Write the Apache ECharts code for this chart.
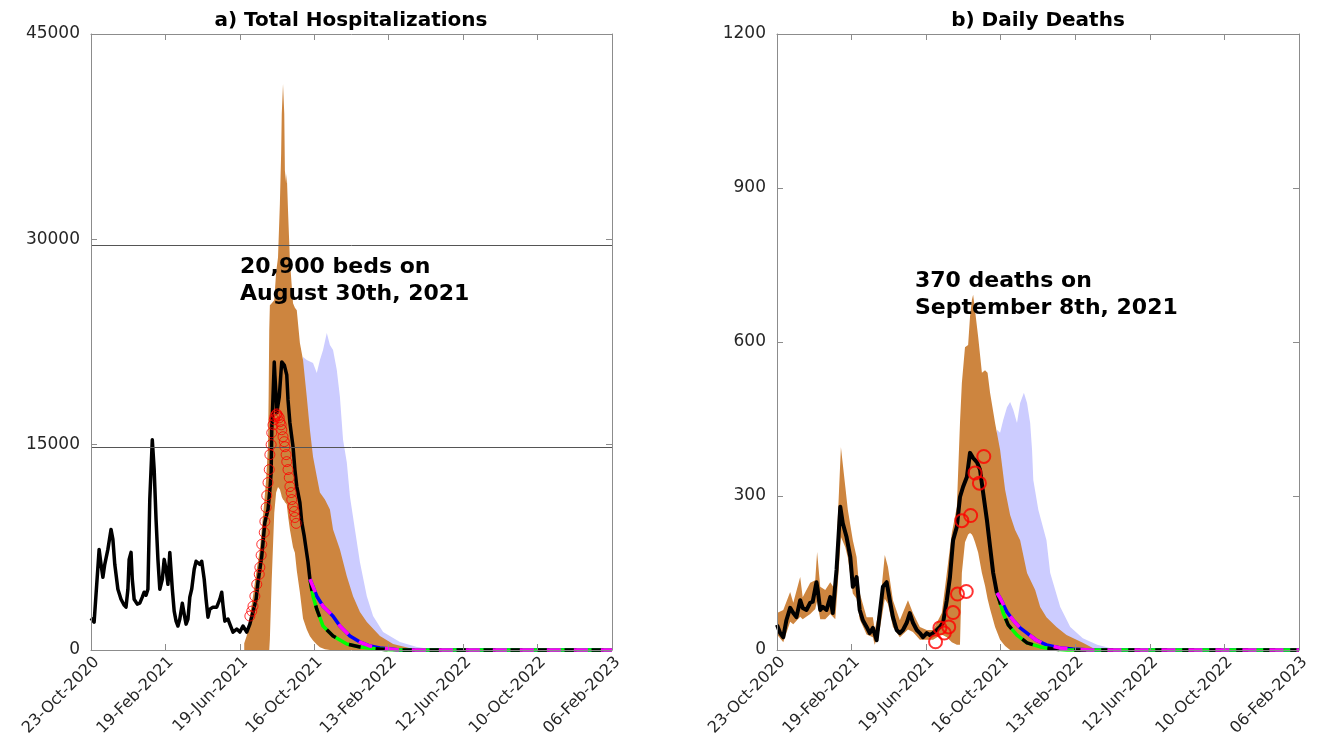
<!DOCTYPE html>
<html><head><meta charset="utf-8">
<script src="https://cdn.jsdelivr.net/npm/echarts@6/dist/echarts.min.js"></script>
<style>html,body{margin:0;padding:0;background:#fff}#c{width:1320px;height:753px}</style>
</head><body><div id="c"></div>
<script>
// ---------- axis ticks ----------
const xTickLabels = ['23-Oct-2020','19-Feb-2021','19-Jun-2021','16-Oct-2021','13-Feb-2022','12-Jun-2022','10-Oct-2022','06-Feb-2023'];
const dayStep = 119; // days between date ticks
const hospTicks = [0, 15000, 30000, 45000];
const deathTicks = [0, 300, 600, 900, 1200];
const bedLines = [29600, 14800];

// ---------- a) hospitalizations (day index from 23-Oct-2020) ----------
const hospObsDays = [0,5,8,13,16,19,22,27,32,35,38,43,48,53,56,59,61,64,66,69,74,78,82,85,88,91,94,98,101,104,107,110,114,117,120,123,126,130,133,136,139,142,146,149,152,155,158,161,165,168,171,174,177,181,184,187,190,195,201,206,209,211,214,219,222,227,233,238,243,249,254,259,264,267,270,273,278,283,286,288,289,291,293,294,296,297,301,304,305,309,311,313,315,318,323,326,329,334,337,341,344,347,350];
const hospObsVals = [2330,2040,2110,7350,6260,5310,6260,7350,8810,8080,6260,4440,3710,3280,3130,4440,6620,7130,5170,3710,3350,3420,3860,4220,4000,4440,11000,15360,13180,9540,6620,4440,5170,6620,5900,4800,7130,4440,2840,2110,1750,2260,3420,2620,1890,2260,3860,4440,5900,6480,6480,6260,6480,5170,3710,2400,2980,3130,3130,3710,4220,3280,2110,2260,1890,1310,1530,1310,1750,1310,1890,2770,3710,4950,5900,6840,9320,10260,11720,12960,16090,18490,21040,20090,18490,17330,18490,20460,21040,20820,20900,20090,18270,16600,14850,13180,11940,10770,9320,8300,7350,6410,5170];
const hospDataDays = [254,257,259,262,265,269,270,272,273,277,278,280,281,283,285,286,288,289,291,293,294,296,297,299,301,302,304,305,307,309,310,312,313,315,317,318,320,321,323,325,326,328];
const hospDataVals = [2480,2840,3200,3930,4800,5530,6040,6920,7720,8590,9390,10410,11280,12230,13180,14270,15000,15870,16450,16820,17040,17180,17250,17110,16960,16670,16450,16090,15580,15220,14850,14270,13760,13180,12590,11940,11500,10990,10480,10120,9680,9250];
const hospLowDays = [350,355,361,371,387,409,430,446,470,494,833];
const hospLowVals = [5170,3930,2980,1750,1020,440,220,120,40,0,0];
const hospHighDays = [350,361,371,379,387,398,414,430,446,462,478,494,833];
const hospHighVals = [5170,3930,3200,2840,2470,1750,1020,580,290,150,70,0,0];
const hospBandDays = [245,249,254,259,265,270,273,277,280,283,284,285,286,289,293,296,299,302,304,305,307,309,310,312,313,315,318,323,326,329,334,339,345,350,355,361,366,374,382,387,398,409,419,430,441,462,483,515,542];
const hospBandHigh = [500,1040,2480,3930,5900,7350,8810,10770,12450,14850,18490,23370,25190,25330,25550,27590,28680,32610,36250,39170,41350,39170,35020,34070,34800,32100,28460,25330,25000,24820,22420,21180,18490,16090,14120,12670,11500,10990,10260,8810,7350,5390,3930,2770,2040,1020,440,70,0];
const hospBandLow = [0,0,0,0,0,0,0,0,0,0,0,0,800,5200,10000,11500,11900,11720,11400,11200,11000,10900,10800,10700,10630,9800,8810,7500,7100,5800,4200,2300,1500,1000,700,400,200,50,0,0,0,0,0,0,0,0,0,0,0];
const hospLavDays = [339,345,355,361,366,371,377,382,387,393,398,403,409,414,422,430,441,451,467,494,521,542,574];
const hospLavHigh = [21400,21180,20970,20240,21180,21910,23150,22280,21910,20460,18490,15360,13690,11210,8810,6410,3930,2480,1310,580,220,70,0];
const hospLavLow = [10000,9000,8000,6000,5000,4000,3000,2500,2000,1500,1200,1000,800,600,400,300,200,100,50,0,0,0,0];

// ---------- b) daily deaths ----------
const deathObsDays = [0,5,10,15,21,26,31,37,41,47,53,57,63,65,69,73,79,85,89,95,101,105,111,117,121,127,132,137,143,148,153,159,164,169,175,180,185,191,196,201,207,212,217,223,228,233,239,244,249,255,260,265,271,276,281,287,292,297,303,308,313,319,324,329,335,340,345,351];
const deathObsVals = [49,33,25,58,82,72,64,97,82,78,92,94,132,117,78,84,78,103,72,156,279,247,220,181,123,142,78,58,45,33,43,19,72,123,132,97,64,39,33,39,53,72,53,39,33,25,33,29,33,39,45,53,97,142,214,240,298,318,337,384,374,366,351,306,253,201,150,111];
const deathDataDays = [253,260,267,274,281,288,295,302,309,316,323,330];
const deathDataVals = [16,43,33,45,73,109,252,114,262,345,325,377];
const deathLowDays = [351,356,361,369,383,399,420,440,463,833];
const deathLowVals = [111,92,72,49,29,14,6,2,0,0];
const deathHighDays = [351,356,367,377,388,399,414,430,452,472,500,833];
const deathHighVals = [111,101,74,58,43,33,19,10,4,2,0,0];
const deathBandDays = [0,10,21,26,37,41,53,61,64,69,77,85,93,96,102,109,113,121,127,132,143,153,156,164,172,177,185,196,209,217,228,239,249,263,271,279,287,292,295,300,305,308,311,313,316,321,327,332,336,340,348,356,364,372,380,388,399,412,420,430,446,462,488,504,523];
const deathBandHigh = [72,78,113,92,142,103,131,136,191,123,117,132,117,228,395,318,273,214,181,111,64,64,39,84,185,162,97,58,97,72,45,39,39,72,150,228,279,442,520,590,594,649,682,692,662,610,540,545,540,501,442,390,312,263,234,214,150,117,84,64,45,29,14,4,0];
const deathBandLow = [30,15,55,50,65,60,70,80,95,60,60,70,60,110,220,200,180,110,100,60,30,25,10,40,100,90,45,25,40,35,20,20,20,30,25,15,10,10,150,210,225,228,225,220,210,190,150,125,100,80,45,20,8,0,0,0,0,0,0,0,0,0,0,0,0];
const deathLavDays = [351,356,361,367,372,377,383,388,394,399,404,407,409,417,430,436,452,468,488,511,531,555];
const deathLavHigh = [429,423,448,473,483,468,442,481,501,481,442,390,331,273,214,150,84,45,23,10,4,0];
const deathLavLow = [100,90,80,70,60,55,50,45,40,35,30,28,25,20,15,10,5,2,0,0,0,0];

// ---------- styling ----------
const ORANGE = '#CD853F', LAV = '#CCCCFF';
const FONT = '"DejaVu Sans", sans-serif';
const AXC = '#8c8c8c', TXT = '#262626';

const pts = (d, v) => d.map((x, i) => [x, v[i]]);

// shaded band between a low and a high curve, drawn as one polygon through the axis scales
function band(days, low, high, color, xi, yi, z) {
  return {type: 'custom', xAxisIndex: xi, yAxisIndex: yi, z: z, silent: true, clip: true,
    data: days.map((d, i) => [d, low[i], high[i]]),
    encode: {x: 0, y: [1, 2]},
    renderItem: function (params, api) {
      if (params.dataIndex !== 0) return null;
      const top = days.map((d, i) => api.coord([d, high[i]]));
      const bot = days.map((d, i) => api.coord([d, low[i]])).reverse();
      return {type: 'polygon', shape: {points: top.concat(bot)}, style: {fill: color, stroke: null}};
    }};
}
function line(days, vals, color, width, xi, yi, z, dash, offset) {
  return {type: 'line', xAxisIndex: xi, yAxisIndex: yi, data: pts(days, vals), symbol: 'none', showSymbol: false, z: z, silent: true, clip: false,
    lineStyle: {color: color, width: width, type: dash || 'solid', dashOffset: offset || 0, cap: 'butt', join: 'round'}};
}
function circles(days, vals, size, bw, xi, yi) {
  return {type: 'scatter', xAxisIndex: xi, yAxisIndex: yi, data: pts(days, vals), symbol: 'circle', symbolSize: size, z: 6, silent: true,
    itemStyle: {color: 'rgba(0,0,0,0)', borderColor: '#ff0000', borderWidth: bw}};
}

function xAxes(gi) {
  const base = {gridIndex: gi, type: 'value', min: 0, max: dayStep * (xTickLabels.length - 1), interval: dayStep, z: 10,
    splitLine: {show: false}, axisLine: {show: true, onZero: false, lineStyle: {color: AXC, width: 1}},
    axisTick: {show: true, inside: true, length: 6, lineStyle: {color: AXC}}};
  return [
    Object.assign({}, base, {position: 'bottom', axisLabel: {show: true, rotate: 45, margin: 4, verticalAlign: 'top', fontSize: 16, color: TXT, fontFamily: FONT,
      showMinLabel: true, showMaxLabel: true, formatter: v => xTickLabels[Math.round(v / dayStep)] || ''}}),
    Object.assign({}, base, {position: 'top', axisLabel: {show: false}})
  ];
}
function yAxes(gi, ticks) {
  const base = {gridIndex: gi, type: 'value', min: ticks[0], max: ticks[ticks.length - 1], interval: ticks[1] - ticks[0], z: 10,
    splitLine: {show: false}, axisLine: {show: true, onZero: false, lineStyle: {color: AXC, width: 1}},
    axisTick: {show: true, inside: true, length: 6, lineStyle: {color: AXC}}};
  return [
    Object.assign({}, base, {position: 'left', axisLabel: {show: true, margin: 11, fontSize: 17, color: TXT, fontFamily: FONT, formatter: v => String(v)}}),
    Object.assign({}, base, {position: 'right', axisLabel: {show: false}})
  ];
}

const series = [
  // panel a
  band(hospLavDays, hospLavLow, hospLavHigh, LAV, 0, 0, 1),
  band(hospBandDays, hospBandLow, hospBandHigh, ORANGE, 0, 0, 2),
  {type: 'line', xAxisIndex: 0, yAxisIndex: 0, data: [], z: 3, silent: true,
    markLine: {silent: true, symbol: 'none', label: {show: false}, animation: false,
      lineStyle: {color: '#555', width: 1, type: 'solid'}, data: bedLines.map(v => ({yAxis: v}))}},
  line(hospObsDays, hospObsVals, '#000', 3.5, 0, 0, 4),
  line(hospHighDays, hospHighVals, '#0000ff', 3.5, 0, 0, 4),
  line(hospLowDays, hospLowVals, '#00ff00', 3.5, 0, 0, 4),
  line(hospLowDays, hospLowVals, '#000', 3.5, 0, 0, 5, [12, 15], 0),
  line(hospHighDays, hospHighVals, '#ff00ff', 3.5, 0, 0, 5, [14, 13], 0),
  circles(hospDataDays, hospDataVals, 10, 1, 0, 0),
  // panel b
  band(deathLavDays, deathLavLow, deathLavHigh, LAV, 2, 2, 1),
  band(deathBandDays, deathBandLow, deathBandHigh, ORANGE, 2, 2, 2),
  line(deathObsDays, deathObsVals, '#000', 4, 2, 2, 4),
  line(deathHighDays, deathHighVals, '#0000ff', 3.5, 2, 2, 4),
  line(deathLowDays, deathLowVals, '#00ff00', 3.5, 2, 2, 4),
  line(deathLowDays, deathLowVals, '#000', 3.5, 2, 2, 5, [12, 15], 0),
  line(deathHighDays, deathHighVals, '#ff00ff', 3.5, 2, 2, 5, [14, 13], 0),
  circles(deathDataDays, deathDataVals, 13, 2, 2, 2)
];

const chart = echarts.init(document.getElementById('c'), null, {renderer: 'canvas'});
chart.setOption({
  animation: false,
  backgroundColor: '#fff',
  grid: [
    {left: 91, top: 34, width: 521, height: 616, containLabel: false},
    {left: 777, top: 34, width: 522, height: 616, containLabel: false}
  ],
  xAxis: [].concat(xAxes(0), xAxes(1)),
  yAxis: [].concat(yAxes(0, hospTicks), yAxes(1, deathTicks)),
  series: series,
  graphic: [
    {type: 'text', z: 100, x: 351, y: 11, style: {text: 'a) Total Hospitalizations', font: 'bold 20px ' + FONT, fill: '#000', textAlign: 'center', textVerticalAlign: 'top'}},
    {type: 'text', z: 100, x: 1038, y: 11, style: {text: 'b) Daily Deaths', font: 'bold 20px ' + FONT, fill: '#000', textAlign: 'center', textVerticalAlign: 'top'}},
    {type: 'text', z: 100, x: 240, y: 254, style: {text: '20,900 beds on\nAugust 30th, 2021', font: 'bold 22px ' + FONT, lineHeight: 27, fill: '#000', textAlign: 'left', textVerticalAlign: 'top'}},
    {type: 'text', z: 100, x: 915, y: 268, style: {text: '370 deaths on\nSeptember 8th, 2021', font: 'bold 22px ' + FONT, lineHeight: 27, fill: '#000', textAlign: 'left', textVerticalAlign: 'top'}}
  ]
});
</script></body></html>
